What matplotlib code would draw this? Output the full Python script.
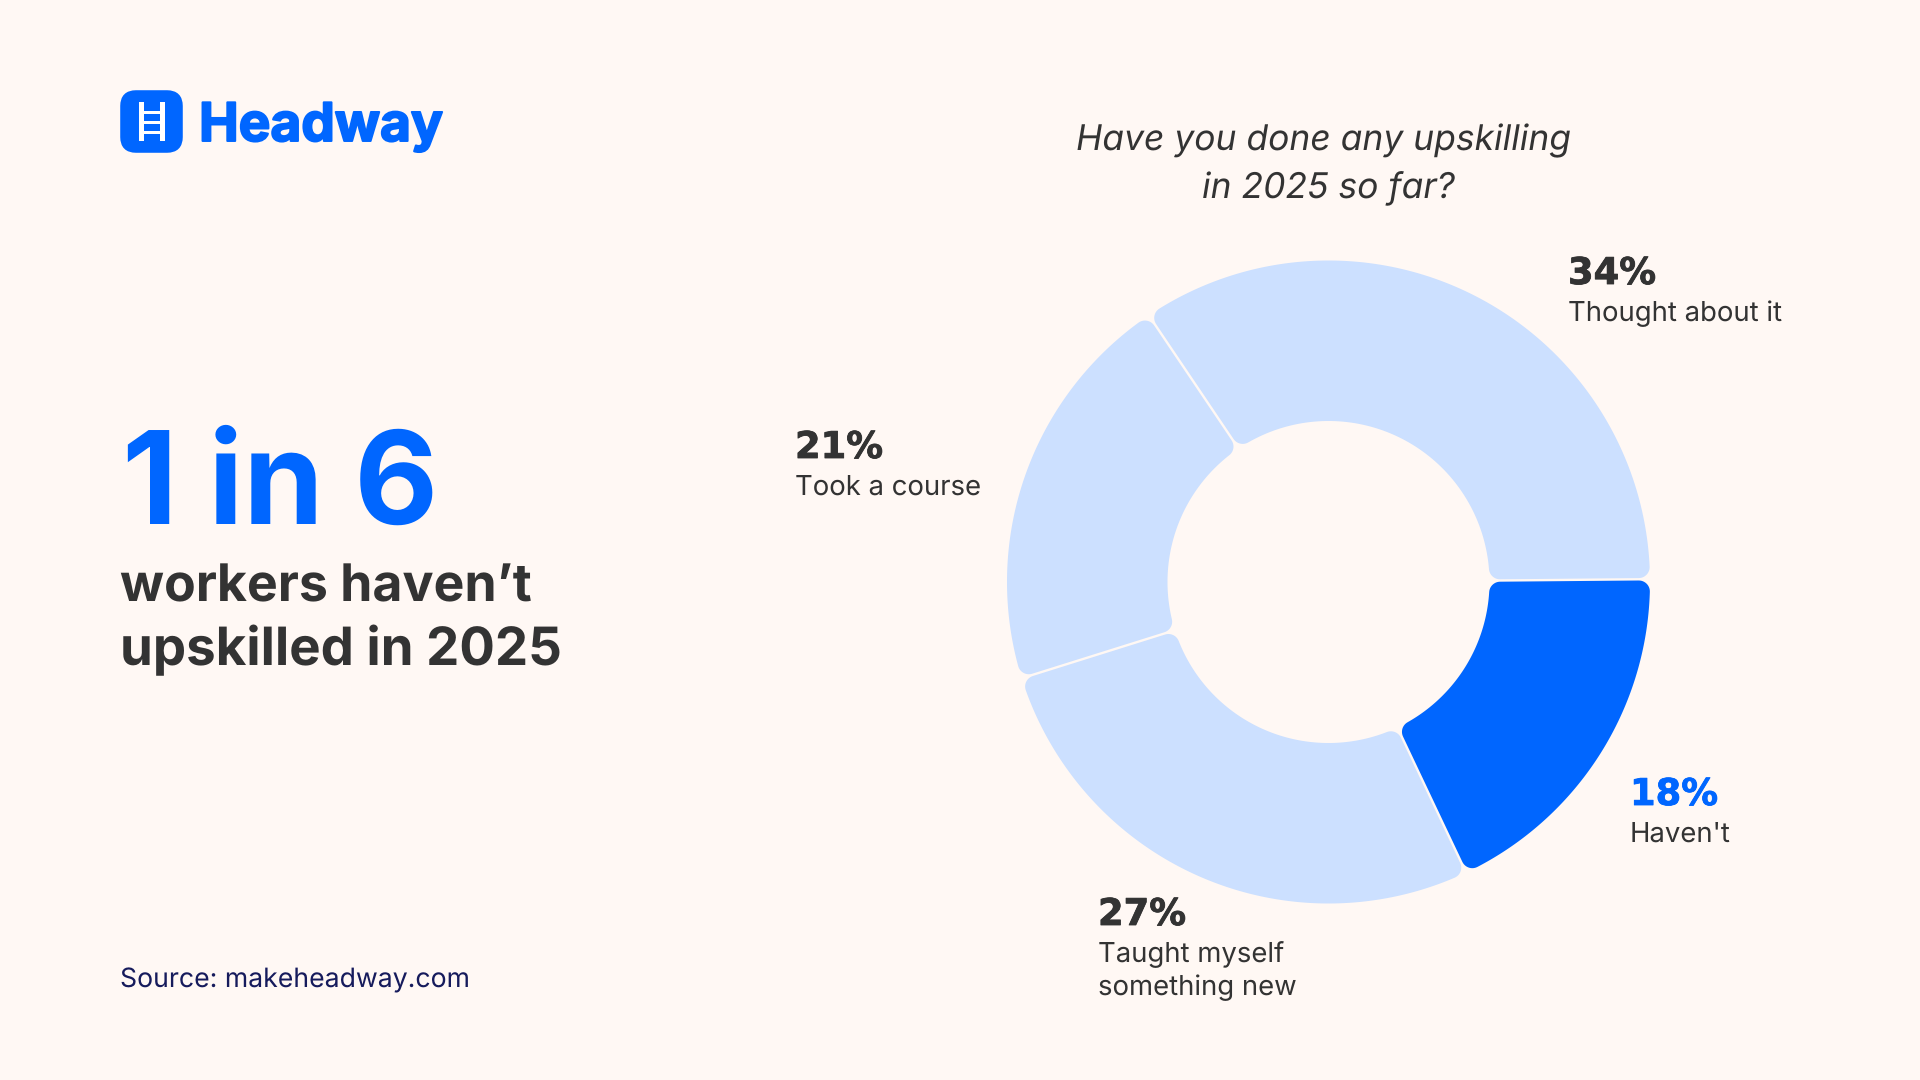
import numpy as np
import matplotlib
matplotlib.use("Agg")
import matplotlib.pyplot as plt
import matplotlib.patheffects as pe
from matplotlib.path import Path
from matplotlib.patches import FancyBboxPatch, Rectangle

plt.rcParams["text.hinting"] = "no_hinting"
plt.rcParams["text.hinting_factor"] = 1

labels = ["Thought about it", "Took a course", "Taught myself\nsomething new", "Haven't"]
shares = [34.3, 20.4, 27.2, 18.1]
percent_labels = ["34%", "21%", "27%", "18%"]
highlight = "Haven't"

BG = "#FFF8F4"
BLUE = "#0066FF"
LIGHT = "#CCE0FF"
DARK = "#333333"
NAVY = "#161B5C"

W, H = 1920, 1080
CX, CY, R_OUT, R_IN = 1328.5, H - 582, 321.5, 161
START = 0.5
GAP = 1.2
CORNER = 11


def rounded_sector(cx, cy, r0, r1, t1, t2, gap, rad):
    """Annular sector between angles t1,t2 (deg) with rounded corners."""
    t1, t2 = np.radians(t1), np.radians(t2)
    out_a1 = t1 + np.arcsin((gap + rad) / (r1 - rad))
    out_a2 = t2 - np.arcsin((gap + rad) / (r1 - rad))
    in_a1 = t1 + np.arcsin((gap + rad) / (r0 + rad))
    in_a2 = t2 - np.arcsin((gap + rad) / (r0 + rad))
    pts = []
    def arc(c, r, a, b, n=14):
        for x in np.linspace(a, b, n):
            pts.append((c[0] + r * np.cos(x), c[1] + r * np.sin(x)))
    def pol(r, a):
        return (cx + r * np.cos(a), cy + r * np.sin(a))
    arc(pol(r1 - rad, out_a1), rad, t1 - np.pi / 2, out_a1)
    arc((cx, cy), r1, out_a1, out_a2, 120)
    arc(pol(r1 - rad, out_a2), rad, out_a2, t2 + np.pi / 2)
    arc(pol(r0 + rad, in_a2), rad, t2 + np.pi / 2, in_a2 + np.pi)
    arc((cx, cy), r0, in_a2, in_a1, 80)
    arc(pol(r0 + rad, in_a1), rad, in_a1 + np.pi, t1 + 3 * np.pi / 2)
    pts.append(pts[0])
    return Path(np.array(pts), closed=True)


fig = plt.figure(figsize=(W / 100, H / 100), dpi=100, facecolor=BG)
ax = fig.add_axes([0, 0, 1, 1])
ax.set_facecolor(BG)

colors = [BLUE if l == highlight else LIGHT for l in labels]
wedges, _ = ax.pie(shares, colors=colors, startangle=START, counterclock=True,
                   radius=R_OUT, center=(CX, CY), frame=True,
                   wedgeprops=dict(width=R_OUT - R_IN, linewidth=0))
for w in wedges:
    w._path = rounded_sector(CX, CY, R_IN, R_OUT, w.theta1, w.theta2, GAP, CORNER)
    w.set_transform(ax.transData)
    w._patch_transform = matplotlib.transforms.IdentityTransform()
ax.set_xlim(0, W)
ax.set_ylim(0, H)
ax.set_aspect("equal")
ax.axis("off")


def T(x, y, s, **kw):
    kw.setdefault("va", "baseline")
    kw.setdefault("ha", "left")
    return ax.text(x, H - y, s, **kw)


# logo
ax.add_patch(FancyBboxPatch((123, H - 150), 57, 57, boxstyle="round,pad=0,rounding_size=13",
                            fc=BLUE, ec=BLUE, lw=4, joinstyle="round"))
for rx in (138.5, 159.5):
    ax.add_patch(Rectangle((rx, H - 141), 5.5, 39, fc="white", ec="none"))
for ry in (112, 122, 132):
    ax.add_patch(Rectangle((144, H - ry - 1.5), 16, 3, fc="white", ec="none"))
T(199, 141, "Headway", family="Inter", weight="bold", fontsize=38.3, color=BLUE,
  path_effects=[pe.withStroke(linewidth=1.4, foreground=BLUE)])

# left text
T(122, 524, "1 in 6", family="Inter", weight="bold", fontsize=93, color=BLUE)
T(120, 601, "workers haven’t", family="Inter", weight="bold", fontsize=37.3, color=DARK)
T(120, 665, "upskilled in 2025", family="Inter", weight="bold", fontsize=38, color=DARK)
T(120, 987, "Source: makeheadway.com", family="Inter", fontsize=19.2, color=NAVY)

# title
T(1324, 150, "Have you done any upskilling", family="Inter", style="italic", fontsize=25.5, color=DARK, ha="center")
T(1328, 198, "in 2025 so far?", family="Inter", style="italic", fontsize=25.5, color=DARK, ha="center")

# labels
pos = [(1568, 284), (795, 458), (1098, 925), (1630, 805)]
for (x, y), p, l in zip(pos, percent_labels, labels):
    c = BLUE if l == highlight else DARK
    T(x, y, p, family="DejaVu Sans", weight="bold", fontsize=26.5, color=c,
      path_effects=[pe.withStroke(linewidth=0.6, foreground=c)])
    for i, part in enumerate(l.split("\n")):
        T(x, y + 37 + i * 33, part, family="Inter", fontsize=19.8, color=DARK)

fig.savefig("out.png", dpi=100, facecolor=BG)
